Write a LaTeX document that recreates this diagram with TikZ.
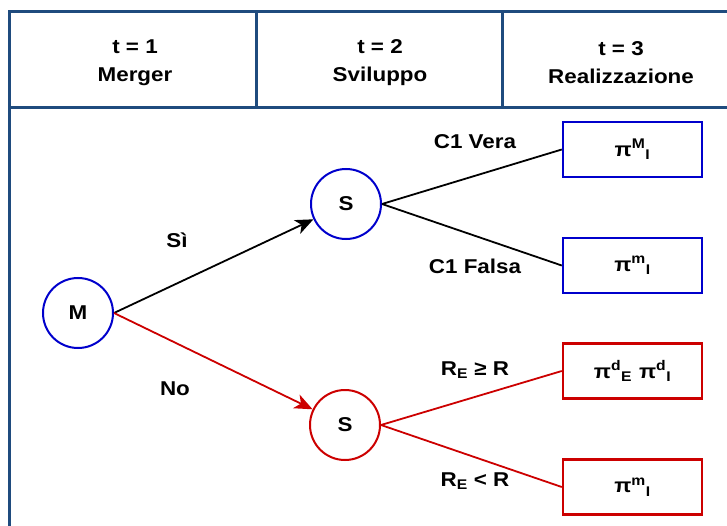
\documentclass[tikz,border=0pt]{standalone}
\usepackage{fontspec}
\setmainfont[FakeStretch=1.12]{Liberation Sans}
\usetikzlibrary{arrows.meta}
\definecolor{framenavy}{HTML}{1F4B7E}
\definecolor{nodeblue}{HTML}{0000CC}
\definecolor{nodered}{HTML}{CC0000}

\begin{document}
\begin{tikzpicture}[x=1pt, y=-1pt,
    every node/.style={font=\fontsize{20}{24}\selectfont\bfseries},
    frame/.style={line width=3pt, framenavy},
    head/.style={align=center, font=\fontsize{20}{28}\selectfont\bfseries},
    state/.style={circle, draw, line width=2pt, minimum size=70pt, inner sep=0pt},
    payoff/.style={rectangle, draw, line width=2.5pt, minimum width=139pt,
                   minimum height=55pt, inner sep=0pt, text=black},
    branch/.style={line width=1.8pt},
    arr/.style={branch, -{Stealth[length=18pt, width=15pt, inset=5pt]}},
  ]

  \def\leftx{9}      % left edge of the frame
  \def\topy{12}      % top edge of the header
  \def\heady{107.5}  % header / body separator
  \def\boxx{632.5}   % column of the payoff boxes

  \useasboundingbox (0,0) rectangle (727,526);
  \clip (0,0) rectangle (727,526);

  % --- frame and header ---
  \draw[frame] (\leftx,\topy) rectangle (760,560);
  \draw[frame] (\leftx,\heady) -- (760,\heady);
  \draw[frame] (256,\topy) -- (256,\heady);
  \draw[frame] (502,\topy) -- (502,\heady);
  \node[head] (h1) at (135,63) {t = 1\\Merger};
  \node[head] (h2) at (380,63) {t = 2\\Sviluppo};
  \node[head] (h3) at (621,63) {t = 3\\Realizzazione};

  % --- decision nodes ---
  \node[state, draw=nodeblue] (m)  at (78,313)  {M};
  \node[state, draw=nodeblue] (s1) at (346,204) {S};
  \node[state, draw=nodered]  (s2) at (345,425) {S};

  % --- payoffs ---
  \node[payoff, draw=nodeblue] (p1) at (\boxx,149.5) {π\textsuperscript{M}\textsubscript{I}};
  \node[payoff, draw=nodeblue] (p2) at (\boxx,265.5) {π\textsuperscript{m}\textsubscript{I}};
  \node[payoff, draw=nodered]  (p3) at (\boxx,371)
    {π\textsuperscript{d}\textsubscript{E}\hspace{7pt}π\textsuperscript{d}\textsubscript{I}};
  \node[payoff, draw=nodered]  (p4) at (\boxx,487) {π\textsuperscript{m}\textsubscript{I}};

  % --- branches ---
  \draw[arr] (m.east) -- (s1);
  \draw[arr, nodered] (m.east) -- (s2);
  \draw[branch] (s1.east) -- (p1.west);
  \draw[branch] (s1.east) -- (p2.west);
  \draw[branch, nodered] (s2.east) -- (p3.west);
  \draw[branch, nodered] (s2.east) -- (p4.west);

  % --- branch labels ---
  \node (yes) at (177,240) {Sì};
  \node (no)  at (175,389) {No};
  \node (c1t) at (475,142) {C1 Vera};
  \node (c1f) at (475,266) {C1 Falsa};
  \node (rge) at (475,370) {R\textsubscript{E} ≥ R};
  \node (rlt) at (475,481) {R\textsubscript{E} < R};

\end{tikzpicture}
\end{document}
